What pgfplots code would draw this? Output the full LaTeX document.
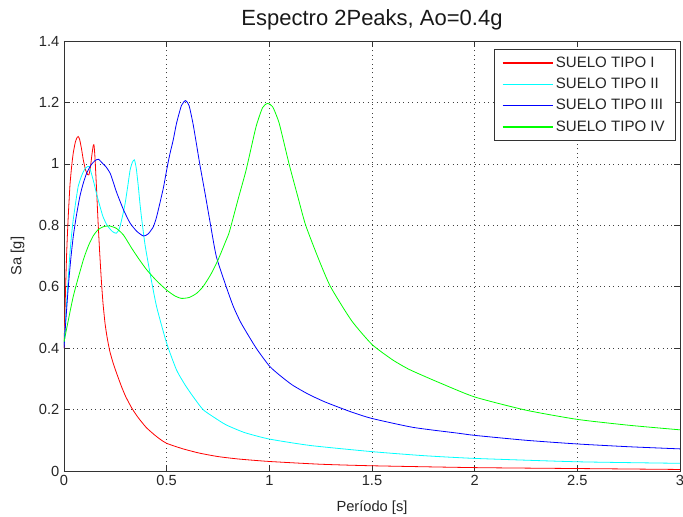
\documentclass[border=0pt]{standalone}
\usepackage{fontspec}
\setmainfont{Liberation Sans}
\usepackage{pgfplots}
\pgfplotsset{compat=1.18}
\definecolor{mred}{rgb}{1,0,0}
\definecolor{mcyan}{rgb}{0,1,1}
\definecolor{mblue}{rgb}{0,0,1}
\definecolor{mgreen}{rgb}{0,1,0}
\begin{document}
\begin{tikzpicture}
\begin{axis}[
  at={(48pt,34.5pt)}, anchor=south west,
  scale only axis, width=462pt, height=322.5pt,
  xmin=0, xmax=3, ymin=0, ymax=1.4,
  xtick={0,0.5,1,1.5,2,2.5,3},
  ytick={0,0.2,0.4,0.6,0.8,1,1.2,1.4},
  xticklabels={0,0.5,1,1.5,2,2.5,3},
  yticklabels={0,0.2,0.4,0.6,0.8,1,1.2,1.4},
  tick align=inside, xtick pos=both, ytick pos=both,
  major tick length=4.5pt,
  tick style={black!80, line width=0.5pt},
  axis line style={black!80, line width=0.5pt},
  grid=major,
  major grid style={black!75, line width=0.5pt, dash pattern=on 0.75pt off 2.6pt},
  ticklabel style={font=\fontsize{11}{12}\selectfont, text=black!85},
  label style={font=\fontsize{11}{12}\selectfont, text=black!85},
  title style={font=\fontsize{16.5}{19}\selectfont, text=black!90, yshift=-1pt},
  title={Espectro 2Peaks, Ao=0.4g},
  xlabel={Período [s]},
  ylabel={Sa [g]},
  xlabel style={yshift=-4pt},
  ylabel style={yshift=4pt},
  legend cell align=left,
  legend style={at={(1,1)}, anchor=north east, xshift=-3.2pt, yshift=-6pt,
    draw=black!80, fill=white, line width=0.5pt,
    font=\fontsize{11.3}{12}\selectfont, text=black!85,
    row sep=2.6pt, inner xsep=6pt, inner ysep=3.5pt},
  legend image code/.code={\draw[#1, sharp plot, line width=1pt] (0pt,0pt) -- (37.5pt,0pt);},
  every axis plot/.append style={line width=0.6pt},
]
\addplot[mred, smooth, tension=0.35] coordinates {
(0,0.40)(0.004,0.50)(0.008,0.60)(0.013,0.71)(0.02,0.82)(0.029,0.93)(0.037,0.99)
(0.045,1.035)(0.055,1.07)(0.063,1.085)(0.069,1.089)(0.076,1.08)(0.085,1.05)
(0.094,1.013)(0.105,0.98)(0.115,0.965)(0.121,0.964)(0.128,0.985)(0.136,1.03)
(0.142,1.058)(0.146,1.062)(0.150,1.03)(0.154,0.98)(0.158,0.926)(0.166,0.81)
(0.174,0.709)(0.182,0.62)(0.190,0.546)(0.2,0.48)(0.21,0.435)(0.223,0.39)
(0.24,0.35)(0.258,0.315)(0.28,0.275)(0.30,0.243)(0.33,0.205)(0.36,0.175)
(0.40,0.142)(0.44,0.118)(0.467,0.104)(0.5,0.09)(0.58,0.072)(0.661,0.058)
(0.75,0.047)(0.85,0.039)(1,0.031)(1.25,0.022)(1.5,0.017)(2,0.011)(2.5,0.008)(3,0.005)
};
\addlegendentry{SUELO TIPO I}
\addplot[mcyan, smooth, tension=0.35] coordinates {
(0,0.41)(0.01,0.52)(0.02,0.62)(0.029,0.709)(0.037,0.77)(0.045,0.818)(0.057,0.875)
(0.069,0.926)(0.085,0.96)(0.1,0.982)(0.112,0.99)(0.123,0.991)(0.135,0.965)
(0.147,0.935)(0.158,0.904)(0.175,0.862)(0.19,0.828)(0.21,0.80)(0.235,0.78)
(0.255,0.774)(0.27,0.79)(0.285,0.83)(0.298,0.872)(0.31,0.925)(0.322,0.98)
(0.333,1.005)(0.343,1.013)(0.352,0.985)(0.362,0.926)(0.37,0.87)(0.379,0.817)
(0.395,0.735)(0.419,0.644)(0.451,0.535)(0.5,0.416)(0.548,0.329)(0.59,0.28)
(0.629,0.242)(0.677,0.20)(0.73,0.175)(0.79,0.15)(0.88,0.125)(1,0.104)
(1.2,0.083)(1.5,0.063)(1.75,0.05)(2,0.041)(2.5,0.03)(3,0.025)
};
\addlegendentry{SUELO TIPO II}
\addplot[mblue, smooth, tension=0.35] coordinates {
(0,0.40)(0.01,0.50)(0.021,0.60)(0.033,0.69)(0.045,0.763)(0.06,0.83)(0.077,0.893)
(0.093,0.935)(0.11,0.969)(0.13,0.995)(0.15,1.01)(0.168,1.015)(0.19,1.0)
(0.205,0.99)(0.225,0.969)(0.24,0.94)(0.258,0.904)(0.29,0.85)(0.322,0.807)
(0.355,0.78)(0.387,0.765)(0.41,0.772)(0.435,0.795)(0.45,0.825)(0.467,0.872)
(0.485,0.925)(0.5,0.98)(0.515,1.03)(0.532,1.078)(0.548,1.132)(0.572,1.19)
(0.592,1.206)(0.609,1.19)(0.628,1.132)(0.645,1.065)(0.661,1.0)(0.688,0.9)
(0.714,0.80)(0.742,0.698)(0.79,0.60)(0.825,0.535)(0.863,0.481)(0.936,0.40)
(1.0,0.342)(1.05,0.312)(1.112,0.28)(1.19,0.25)(1.274,0.224)(1.4,0.192)
(1.5,0.171)(1.7,0.142)(1.92,0.123)(2,0.116)(2.25,0.10)(2.5,0.088)(2.75,0.079)(3,0.072)
};
\addlegendentry{SUELO TIPO III}
\addplot[mgreen, smooth, tension=0.35] coordinates {
(0,0.42)(0.045,0.568)(0.094,0.687)(0.12,0.735)(0.142,0.765)(0.165,0.785)(0.19,0.795)
(0.22,0.798)(0.255,0.79)
(0.29,0.768)(0.33,0.725)(0.365,0.69)(0.403,0.655)(0.45,0.62)(0.5,0.589)(0.54,0.57)
(0.572,0.562)(0.61,0.565)(0.645,0.578)(0.677,0.60)(0.715,0.64)(0.75,0.687)
(0.79,0.752)(0.806,0.78)(0.85,0.89)(0.887,0.98)(0.935,1.12)(0.967,1.183)
(0.991,1.197)(1.016,1.186)(1.048,1.132)(1.096,1.0)(1.14,0.89)(1.177,0.8)
(1.24,0.69)(1.298,0.6)(1.4,0.49)(1.5,0.412)(1.6,0.362)(1.677,0.332)(1.75,0.31)
(1.83,0.287)(2,0.241)(2.25,0.198)(2.5,0.168)(2.75,0.149)(3,0.134)
};
\addlegendentry{SUELO TIPO IV}
\end{axis}
\pgfresetboundingbox
\useasboundingbox (0,0) rectangle (512.25pt,387.75pt);
\end{tikzpicture}
\end{document}
